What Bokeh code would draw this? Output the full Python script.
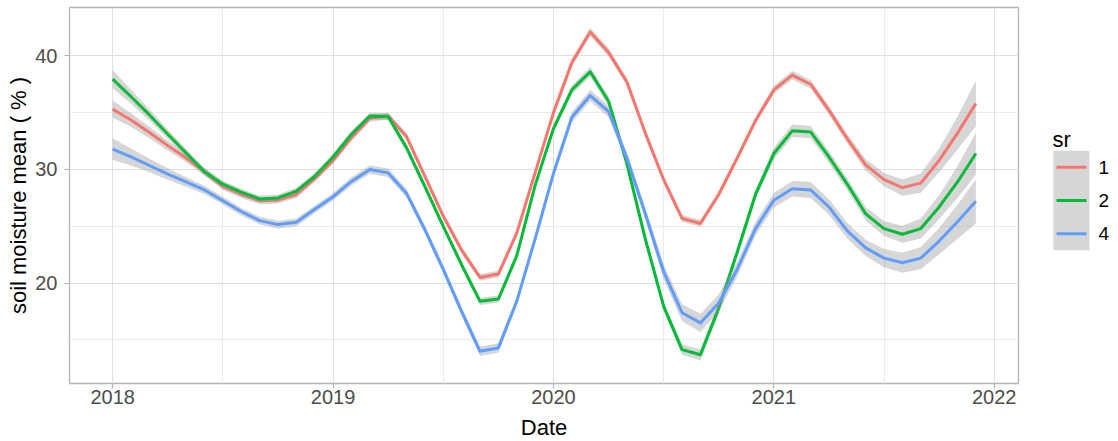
import numpy as np
from bokeh.plotting import figure
from bokeh.layouts import row, column
from bokeh.models import Range1d, FixedTicker
from bokeh.core.properties import value
from bokeh.embed import file_html
from bokeh.resources import INLINE

# ---- data ----
months = [f"{2018 + k // 12}-{k % 12 + 1:02d}" for k in range(48)]
sr_levels = ["1", "2", "4"]
sr_colors = ["#F8766D", "#00BA38", "#619CFF"]

mean_sr1 = [35.3, 34.35, 33.25, 32.1, 31.0, 29.8, 28.5, 27.8, 27.25, 27.3, 27.8, 29.2,
            30.8, 32.8, 34.5, 34.7, 32.9, 29.4, 25.9, 22.9, 20.5, 20.8, 24.4, 29.7,
            35.0, 39.4, 42.1, 40.3, 37.7, 33.2, 29.1, 25.7, 25.25, 27.8, 31.0, 34.3,
            37.0, 38.3, 37.5, 35.2, 32.7, 30.4, 29.1, 28.4, 28.8, 30.8, 33.2, 35.8]
mean_sr2 = [37.95, 36.4, 34.8, 33.1, 31.45, 29.8, 28.7, 28.0, 27.4, 27.5, 28.1, 29.4,
            31.1, 33.1, 34.7, 34.65, 31.9, 28.5, 25.0, 21.6, 18.4, 18.6, 22.4, 28.6,
            33.6, 37.0, 38.6, 36.0, 30.5, 23.9, 17.95, 14.15, 13.7, 17.8, 22.7, 27.8,
            31.4, 33.4, 33.3, 31.1, 28.7, 26.1, 24.8, 24.3, 24.8, 26.7, 28.9, 31.4]
mean_sr4 = [31.8, 31.1, 30.35, 29.6, 28.9, 28.2, 27.25, 26.3, 25.5, 25.15, 25.35, 26.5,
            27.6, 28.95, 30.0, 29.7, 27.9, 24.7, 21.2, 17.5, 14.0, 14.3, 18.4, 23.9,
            29.65, 34.6, 36.5, 35.1, 31.0, 26.1, 21.0, 17.4, 16.5, 18.25, 21.2, 24.8,
            27.3, 28.3, 28.2, 26.7, 24.6, 23.1, 22.2, 21.8, 22.2, 23.7, 25.4, 27.2]

# half width of the confidence band
ci_sr1 = [0.75, 0.6, 0.5, 0.42, 0.36, 0.32, 0.3, 0.3, 0.3, 0.3, 0.3, 0.3,
          0.3, 0.3, 0.3, 0.3, 0.3, 0.3, 0.3, 0.3, 0.3, 0.3, 0.3, 0.3,
          0.32, 0.34, 0.36, 0.36, 0.34, 0.32, 0.3, 0.3, 0.3, 0.3, 0.32, 0.34,
          0.36, 0.38, 0.38, 0.38, 0.42, 0.5, 0.6, 0.72, 0.85, 1.05, 1.45, 2.0]
ci_sr2 = [0.8, 0.62, 0.5, 0.42, 0.36, 0.32, 0.3, 0.3, 0.3, 0.3, 0.3, 0.3,
          0.3, 0.3, 0.3, 0.3, 0.3, 0.3, 0.3, 0.3, 0.32, 0.32, 0.3, 0.3,
          0.34, 0.38, 0.42, 0.42, 0.4, 0.4, 0.42, 0.45, 0.48, 0.48, 0.45, 0.45,
          0.5, 0.55, 0.55, 0.52, 0.52, 0.58, 0.66, 0.75, 0.88, 1.05, 1.4, 1.85]
ci_sr4 = [0.95, 0.75, 0.6, 0.5, 0.42, 0.36, 0.34, 0.34, 0.34, 0.34, 0.34, 0.34,
          0.34, 0.36, 0.38, 0.38, 0.36, 0.36, 0.38, 0.4, 0.42, 0.42, 0.4, 0.38,
          0.4, 0.45, 0.5, 0.5, 0.5, 0.55, 0.65, 0.75, 0.8, 0.75, 0.65, 0.6,
          0.62, 0.68, 0.7, 0.68, 0.68, 0.72, 0.8, 0.88, 0.98, 1.15, 1.5, 1.95]

x_ticks = [2018, 2019, 2020, 2021, 2022]
x_minor = [2018.5, 2019.5, 2020.5, 2021.5]
y_ticks = [20, 30, 40]
y_minor = [15, 25, 35]
x_title = "Date"
y_title = "soil moisture mean ( % )"
legend_title = "sr"

FONT = "Liberation Sans"
MAIN_H = 412

# ---- main figure ----
t = np.array([int(m[:4]) + (int(m[5:]) - 1) / 12 for m in months])

p = figure(width=1020, height=MAIN_H, title=None,
           x_range=Range1d(2017.804, 2022.11), y_range=Range1d(11.17, 44.25),
           output_backend="svg", toolbar_location=None,
           min_border_left=69, min_border_right=2, min_border_top=7, min_border_bottom=MAIN_H - 383)

p.background_fill_color = "white"
p.border_fill_color = "white"
p.outline_line_color = "#b3b3b3"
p.outline_line_width = 1.3

p.xaxis.ticker = FixedTicker(ticks=x_ticks, minor_ticks=x_minor)
p.yaxis.ticker = FixedTicker(ticks=y_ticks, minor_ticks=y_minor)
p.xaxis.major_label_overrides = {v: str(v) for v in x_ticks}

for ax in (p.xaxis[0], p.yaxis[0]):
    ax.axis_line_color = None
    ax.major_tick_line_color = "#b3b3b3"
    ax.major_tick_line_width = 1.2
    ax.major_tick_out = 5
    ax.major_tick_in = 0
    ax.minor_tick_line_color = None
    ax.major_label_text_font = FONT
    ax.major_label_text_font_size = "20px"
    ax.major_label_text_color = "#4d4d4d"

p.xaxis.major_label_standoff = 1
p.yaxis.major_label_standoff = 7

p.yaxis.axis_label = y_title
p.yaxis.axis_label_text_font = FONT
p.yaxis.axis_label_text_font_size = "22px"
p.yaxis.axis_label_text_font_style = "normal"
p.yaxis.axis_label_text_color = "black"
p.yaxis.axis_label_standoff = 1

for g in (p.xgrid[0], p.ygrid[0]):
    g.grid_line_color = "#e0e0e0"
    g.grid_line_width = 1
    g.minor_grid_line_color = "#ebebeb"
    g.minor_grid_line_width = 1

means = [mean_sr1, mean_sr2, mean_sr4]
cis = [ci_sr1, ci_sr2, ci_sr4]
for m, c, col in zip(means, cis, sr_colors):
    m = np.array(m)
    c = np.array(c)
    p.varea(x=t, y1=m - c, y2=m + c, fill_color="#999999", fill_alpha=0.4)
    p.line(t, m, line_color=col, line_width=3, line_join="round")

# ---- legend panel (right), coordinates are page pixels ----
lf = figure(width=98, height=MAIN_H, title=None, x_range=Range1d(1020, 1118), y_range=Range1d(MAIN_H, 0),
            output_backend="svg", toolbar_location=None, min_border=0,
            x_axis_location=None, y_axis_location=None)
lf.outline_line_color = None
lf.grid.grid_line_color = None
lf.background_fill_color = "white"
lf.border_fill_color = "white"

key_y = [175, 211.5, 248]
lf.quad(left=[1053], right=[1089], top=[157], bottom=[266], fill_color="#d6d6d6", line_color=None)
lf.segment(x0=[1056] * 3, x1=[1086] * 3, y0=key_y, y1=key_y, line_color=sr_colors, line_width=3)
lf.text(x=[1098] * 3, y=key_y, text=sr_levels, text_align="left", text_baseline="middle",
        text_font=value(FONT), text_font_size=value("19px"), text_color="black")
lf.text(x=[1052], y=[145], text=[legend_title], text_align="left", text_baseline="alphabetic",
        text_font=value(FONT), text_font_size=value("22px"), text_color="black")

# ---- x axis title strip (bottom), coordinates are page pixels ----
DATE_H = 441 - MAIN_H
df = figure(width=1118, height=DATE_H, title=None, x_range=Range1d(0, 1118), y_range=Range1d(441, MAIN_H),
            output_backend="svg", toolbar_location=None, min_border=0,
            x_axis_location=None, y_axis_location=None)
df.outline_line_color = None
df.grid.grid_line_color = None
df.background_fill_color = "white"
df.border_fill_color = "white"
df.text(x=[543.5], y=[427], text=[x_title], text_align="center", text_baseline="middle",
        text_font=value(FONT), text_font_size=value("22px"), text_color="black")

layout = column(row(p, lf, spacing=0), df, spacing=0)

open("out.html", "w").write(file_html(layout, INLINE, "soil moisture"))
